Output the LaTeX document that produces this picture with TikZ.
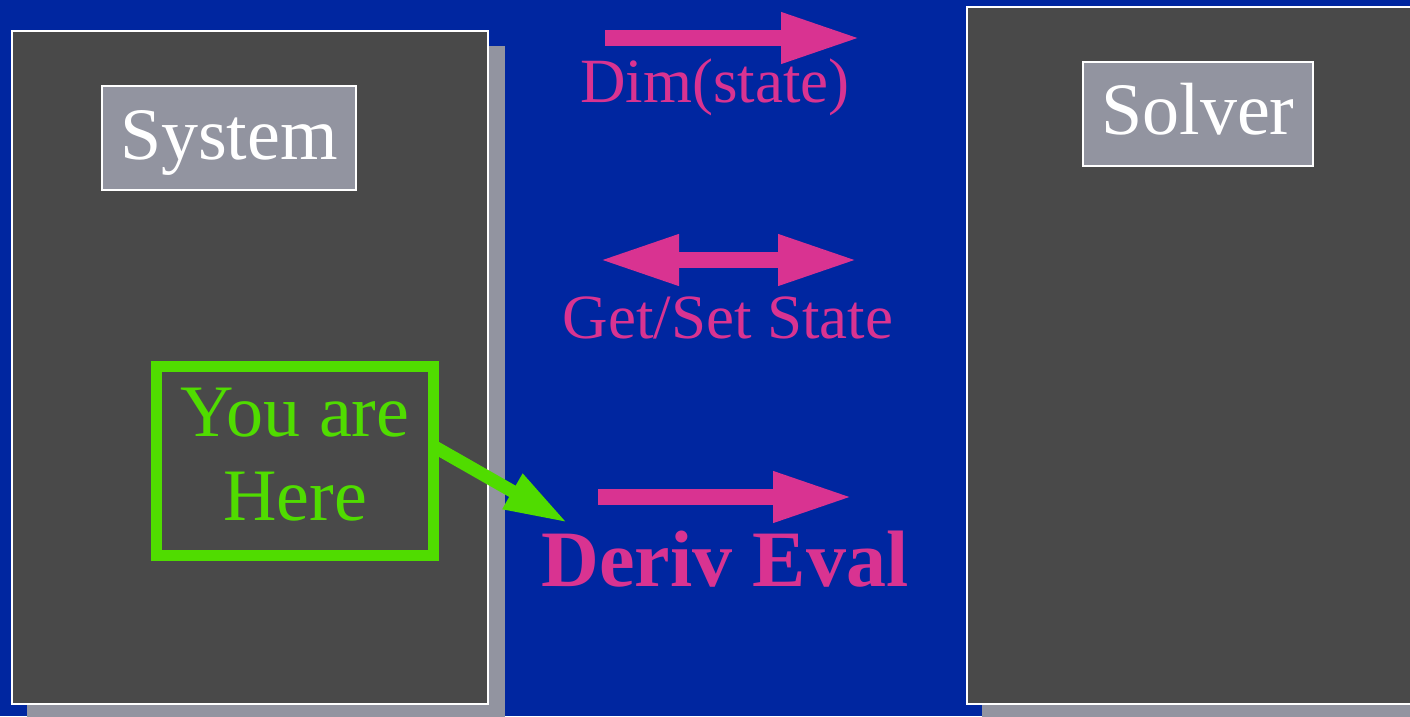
\documentclass[tikz,border=0pt]{standalone}
\usepackage{fontspec}
\setmainfont{Liberation Serif}
\usetikzlibrary{arrows.meta}
\definecolor{bgblue}{RGB}{0,38,160}
\definecolor{panel}{RGB}{73,73,73}
\definecolor{tagfill}{RGB}{146,148,160}
\definecolor{shadowgray}{RGB}{146,148,160}
\definecolor{pinkish}{RGB}{217,51,145}
\definecolor{lime}{RGB}{80,220,0}
\tikzset{
  fathead/.tip={Triangle[length=80pt,width=47pt]},
  limehead/.tip={Triangle[length=64pt,width=37pt]},
}
\begin{document}
\begin{tikzpicture}[x=1pt,y=-1pt,
  panelbox/.style={draw=white, line width=2pt, fill=panel, inner sep=0pt},
  tagbox/.style={draw=white, line width=2pt, fill=tagfill, text=white, inner sep=0pt,
    font=\fontsize{74}{84}\selectfont},
  arrowlabel/.style={text=pinkish, inner sep=0pt, anchor=base,
    font=\fontsize{63}{72}\selectfont},
  fatarrow/.style={draw=pinkish, line width=16pt},
]
% background and page frame
\fill[bgblue] (0,0) rectangle (1410,716);
\useasboundingbox (0,0) rectangle (1410,716);

% drop shadows behind the two panels
\fill[shadowgray] (27,46) rectangle (505,730);
\fill[shadowgray] (982,22) rectangle (1440,730);

% panels
\node[panelbox, minimum width=476pt, minimum height=673pt] (system) at (250,367.5) {};
\node[panelbox, minimum width=463pt, minimum height=697pt] (solver) at (1198.5,355.5) {};

% panel titles
\node[tagbox, minimum width=254pt, text height=73pt, text depth=31pt] (systag) at (229,138) {System};
\node[tagbox, minimum width=230pt, text height=72pt, text depth=32pt] (soltag) at (1198,114) {Solver};

% "you are here" marker
\node[draw=lime, line width=11pt, minimum width=277pt, minimum height=189pt, inner sep=0pt] (here) at (295,461) {};
\node[text=lime, align=center, inner sep=0pt, font=\fontsize{74}{84}\selectfont]
  (heretext) at ([yshift=6pt]here.center) {You are\\Here};
\coordinate (hereA) at ([xshift=-6pt,yshift=15pt]here.east);
\coordinate (hereB) at (568,523);
\draw[lime, line width=13pt, -limehead] (hereA) -- (hereB);

% interface arrows
\coordinate (dimA) at (605,38);
\coordinate (dimB) at (861,38);
\draw[fatarrow, -fathead] (dimA) -- (dimB);
\node[arrowlabel] (dimlabel) at (715,102) {Dim(state)};

\coordinate (gsA) at (599,260);
\coordinate (gsB) at (858,260);
\draw[fatarrow, fathead-fathead] (gsA) -- (gsB);
\node[arrowlabel] (gslabel) at (728,338) {Get/Set State};

\coordinate (dvA) at (598,497);
\coordinate (dvB) at (853,497);
\draw[fatarrow, -fathead] (dvA) -- (dvB);
\node[arrowlabel, font=\bfseries\fontsize{80}{90}\selectfont] (dvlabel) at (725,586) {Deriv Eval};
\end{tikzpicture}
\end{document}
